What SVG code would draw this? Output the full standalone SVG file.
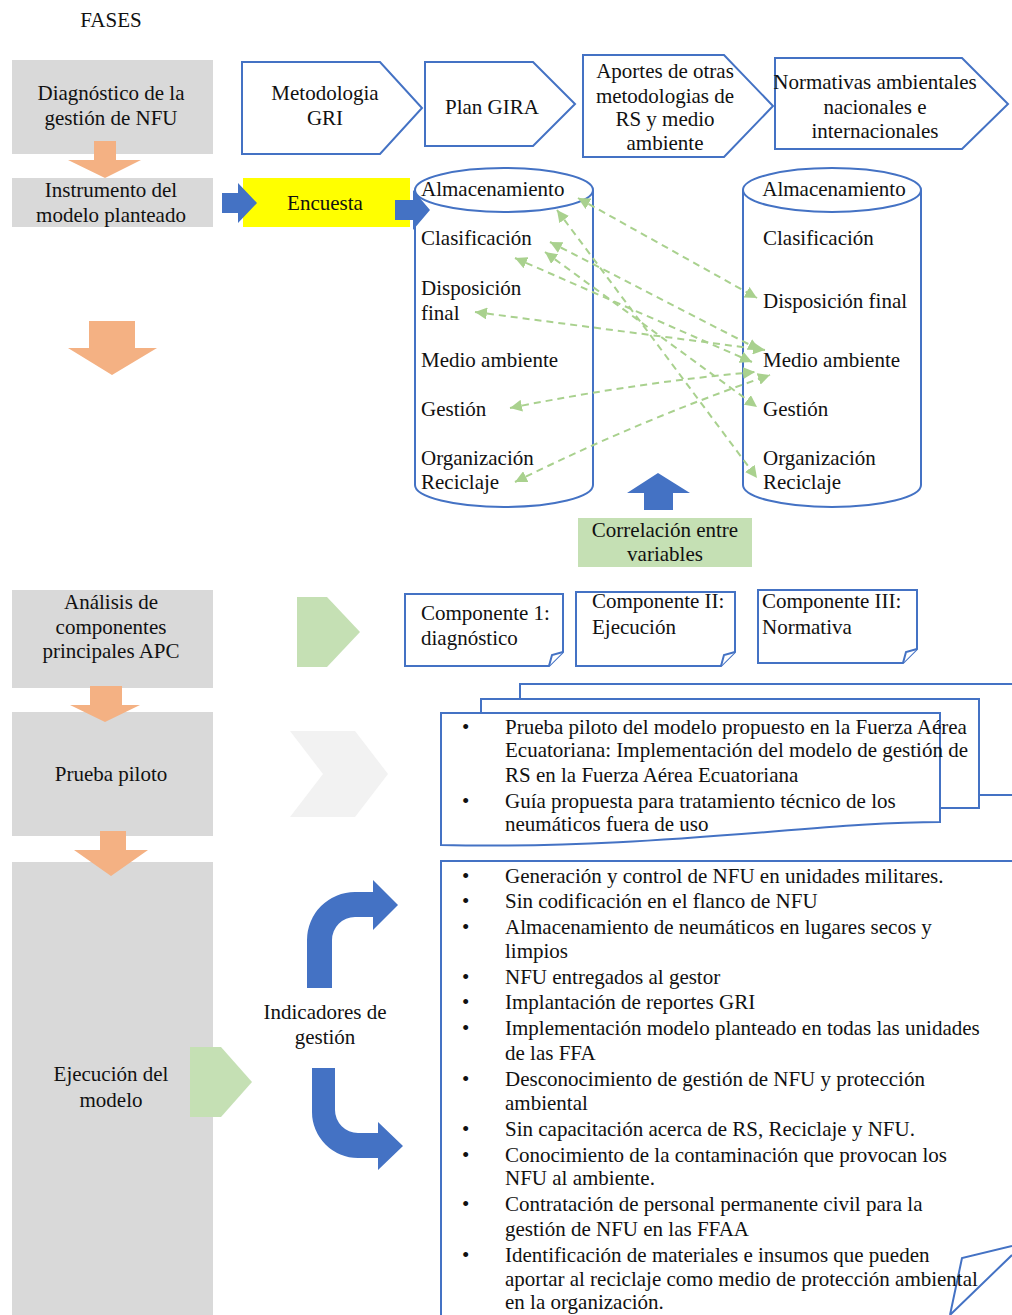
<svg xmlns="http://www.w3.org/2000/svg" width="1012" height="1315" viewBox="0 0 1012 1315">
<defs>
<style>
text{font-family:"Liberation Serif","Times New Roman",serif;font-size:21px;fill:#111}
.c{text-anchor:middle}
.gray{fill:#d9d9d9}
.org{fill:#f4b183}
.blue{fill:#4472c4}
.sh{fill:#fff;stroke:#4472c4;stroke-width:2}
.lgreen{fill:#c5e0b4}
.dl{fill:none;stroke:#a9d18e;stroke-width:2;stroke-dasharray:7 5;marker-start:url(#ah);marker-end:url(#ah)}
</style>
<marker id="ah" viewBox="0 0 10 10" refX="10" refY="5" markerWidth="12" markerHeight="12" markerUnits="userSpaceOnUse" orient="auto-start-reverse">
<path d="M0,0 L10,5 L0,10 z" fill="#a9d18e"/>
</marker>
</defs>
<rect width="1012" height="1315" fill="#fff"/>

<text id="fases" class="c" x="111" y="27">FASES</text>

<!-- Left column phases -->
<g id="fase1"><rect class="gray" x="12" y="60" width="201" height="94"/>
<text class="c" x="111" y="100">Diagnóstico de la</text><text class="c" x="111" y="125">gestión de NFU</text></g>
<g id="fase2"><rect class="gray" x="12" y="178" width="201" height="49"/>
<text class="c" x="111" y="197">Instrumento del</text><text class="c" x="111" y="222">modelo planteado</text></g>
<g id="fase3"><rect class="gray" x="12" y="590" width="201" height="98"/>
<text class="c" x="111" y="609">Análisis de</text><text class="c" x="111" y="634">componentes</text><text class="c" x="111" y="658">principales APC</text></g>
<g id="fase4"><rect class="gray" x="12" y="712" width="201" height="124"/>
<text class="c" x="111" y="781">Prueba piloto</text></g>
<g id="fase5"><rect class="gray" x="12" y="862" width="201" height="453"/>
<text class="c" x="111" y="1081">Ejecución del</text><text class="c" x="111" y="1107">modelo</text></g>

<!-- orange down arrows -->
<g id="flechas-fases">
<path class="org" d="M94,141 H116 V160 H141 L105,178 L68,160 H94 Z"/>
<path class="org" d="M89,321 H135 V348 H157 L112,375 L68,348 H89 Z"/>
<path class="org" d="M90,686 H122 V705 H140 L105,722 L70,705 H90 Z"/>
<path class="org" d="M100,831 H126 V850 H148 L111,876 L74,850 H100 Z"/>
</g>

<!-- top row pentagons -->
<g id="metodologia"><path class="sh" d="M242,62 H380 L422,108 L380,154 H242 Z"/>
<text class="c" x="325" y="100">Metodologia</text><text class="c" x="325" y="125">GRI</text></g>
<g id="plangira"><path class="sh" d="M425,62 H533 L575,104 L533,146 H425 Z"/>
<text class="c" x="492" y="114">Plan GIRA</text></g>
<g id="aportes"><path class="sh" d="M583,55 H724 L773,106 L724,157 H583 Z"/>
<text class="c" x="665" y="78">Aportes de otras</text><text class="c" x="665" y="103">metodologias de</text><text class="c" x="665" y="126">RS y medio</text><text class="c" x="665" y="150">ambiente</text></g>
<g id="normativas"><path class="sh" d="M775,58 H962 L1008,104 L962,149 H775 Z"/>
<text class="c" x="875" y="89">Normativas ambientales</text><text class="c" x="875" y="114">nacionales e</text><text class="c" x="875" y="138">internacionales</text></g>

<!-- encuesta -->
<g id="encuesta"><rect x="243" y="178" width="167" height="49" fill="#ffff00"/>
<text class="c" x="325" y="210">Encuesta</text></g>

<!-- cylinders -->
<g id="cilindro-izq">
<path class="sh" d="M415,190 V485 A89,22 0 0 0 593,485 V190"/>
<ellipse class="sh" cx="504" cy="190" rx="89" ry="22"/>
<text x="421" y="196">Almacenamiento</text>
<text x="421" y="245">Clasificación</text>
<text x="421" y="295">Disposición</text>
<text x="421" y="320">final</text>
<text x="421" y="367">Medio ambiente</text>
<text x="421" y="416">Gestión</text>
<text x="421" y="465">Organización</text>
<text x="421" y="489">Reciclaje</text>
</g>
<g id="cilindro-der">
<path class="sh" d="M743,190 V485 A89,22 0 0 0 921,485 V190"/>
<ellipse class="sh" cx="832" cy="190" rx="89" ry="22"/>
<text class="c" x="834" y="196">Almacenamiento</text>
<text x="763" y="245">Clasificación</text>
<text x="763" y="308">Disposición final</text>
<text x="763" y="367">Medio ambiente</text>
<text x="763" y="416">Gestión</text>
<text x="763" y="465">Organización</text>
<text x="763" y="489">Reciclaje</text>
</g>

<!-- blue block arrows -->
<g id="flechas-azules">
<path class="blue" d="M222,193 H238 V183 L257,203 L238,223 V213 H222 Z"/>
<path class="blue" d="M395,200 H413 V190 L430,210 L413,230 V220 H395 Z"/>
<path class="blue" d="M644,510 V493 H627 L658,473 L690,493 H673 V510 Z"/>
<path class="blue" d="M307,988 V940 A48,48 0 0 1 355,892 H373 V880 L398,905 L373,930 V917 H355 A23,23 0 0 0 332,940 V988 Z"/>
<path class="blue" d="M312,1068 H335 V1110 A23,23 0 0 0 358,1133 H378 V1122 L403,1146 L378,1170 V1158 H358 A46,46 0 0 1 312,1112 Z"/>
</g>

<!-- correlation connectors -->
<g id="conectores">
<path class="dl" d="M578,198 L757,298"/>
<path class="dl" d="M557,210 L757,478"/>
<path class="dl" d="M550,242 L760,350"/>
<path class="dl" d="M545,252 L757,407"/>
<path class="dl" d="M515,258 L752,362"/>
<path class="dl" d="M475,312 L765,350"/>
<path class="dl" d="M510,408 Q640,382 755,372"/>
<path class="dl" d="M515,482 Q640,420 770,375"/>
</g>

<g id="correlacion"><rect class="lgreen" x="578" y="518" width="174" height="49"/>
<text class="c" x="665" y="537">Correlación entre</text><text class="c" x="665" y="561">variables</text></g>

<!-- APC row -->
<g id="flecha-apc"><path class="lgreen" d="M297,597 H327 L360,632 L327,667 H297 Z"/></g>
<g id="componente1"><path class="sh" d="M405,594 H563 V652 L549,666 H405 Z"/><path class="sh" d="M549,666 L552,655 L563,652"/>
<text x="421" y="620">Componente 1:</text><text x="421" y="645">diagnóstico</text></g>
<g id="componente2"><path class="sh" d="M576,592 H735 V652 L721,666 H576 Z"/><path class="sh" d="M721,666 L724,655 L735,652"/>
<text x="592" y="608">Componente II:</text><text x="592" y="634">Ejecución</text></g>
<g id="componente3"><path class="sh" d="M758,590 H917 V649 L903,663 H758 Z"/><path class="sh" d="M903,663 L906,652 L917,649"/>
<text x="762" y="608">Componente III:</text><text x="762" y="634">Normativa</text></g>

<!-- Prueba piloto row -->
<g id="chevron"><path fill="#f2f2f2" d="M290,731 H355 L388,774 L355,817 H290 L323,774 Z"/></g>
<g id="documentos">
<rect class="sh" x="520" y="684" width="510" height="111"/>
<rect class="sh" x="481" y="699" width="498" height="109"/>
<path class="sh" d="M441,713 H940 V822 C820,822 650,850 441,845 Z"/>
<text x="462" y="734">•</text><text x="505" y="734">Prueba piloto del modelo propuesto en la Fuerza Aérea</text>
<text x="505" y="757">Ecuatoriana: Implementación del modelo de gestión de</text>
<text x="505" y="782">RS en la Fuerza Aérea Ecuatoriana</text>
<text x="462" y="808">•</text><text x="505" y="808">Guía propuesta para tratamiento técnico de los</text>
<text x="505" y="831">neumáticos fuera de uso</text>
</g>

<!-- Ejecución row -->
<g id="flecha-ejecucion"><path class="lgreen" d="M190,1047 H221 L252,1082 L221,1117 H190 Z"/></g>
<g id="indicadores"><text class="c" x="325" y="1019">Indicadores de</text><text class="c" x="325" y="1044">gestión</text></g>
<g id="lista">
<path class="sh" d="M441,1320 V861 H1020"/>
<path fill="none" stroke="#4472c4" stroke-width="2" d="M1012,1246 L962,1258 L950,1315 M950,1315 L1012,1255"/>
<text x="462" y="883">•</text><text x="505" y="883">Generación y control de NFU en unidades militares.</text>
<text x="462" y="908">•</text><text x="505" y="908">Sin codificación en el flanco de NFU</text>
<text x="462" y="934">•</text><text x="505" y="934">Almacenamiento de neumáticos en lugares secos y</text>
<text x="505" y="958">limpios</text>
<text x="462" y="984">•</text><text x="505" y="984">NFU entregados al gestor</text>
<text x="462" y="1009">•</text><text x="505" y="1009">Implantación de reportes GRI</text>
<text x="462" y="1035">•</text><text x="505" y="1035">Implementación modelo planteado en todas las unidades</text>
<text x="505" y="1060">de las FFA</text>
<text x="462" y="1086">•</text><text x="505" y="1086">Desconocimiento de gestión de NFU y protección</text>
<text x="505" y="1110">ambiental</text>
<text x="462" y="1136">•</text><text x="505" y="1136">Sin capacitación acerca de RS, Reciclaje y NFU.</text>
<text x="462" y="1162">•</text><text x="505" y="1162">Conocimiento de la contaminación que provocan los</text>
<text x="505" y="1185">NFU al ambiente.</text>
<text x="462" y="1211">•</text><text x="505" y="1211">Contratación de personal permanente civil para la</text>
<text x="505" y="1236">gestión de NFU en las FFAA</text>
<text x="462" y="1262">•</text><text x="505" y="1262">Identificación de materiales e insumos que pueden</text>
<text x="505" y="1286">aportar al reciclaje como medio de protección ambiental</text>
<text x="505" y="1309">en la organización.</text>
</g>
</svg>
